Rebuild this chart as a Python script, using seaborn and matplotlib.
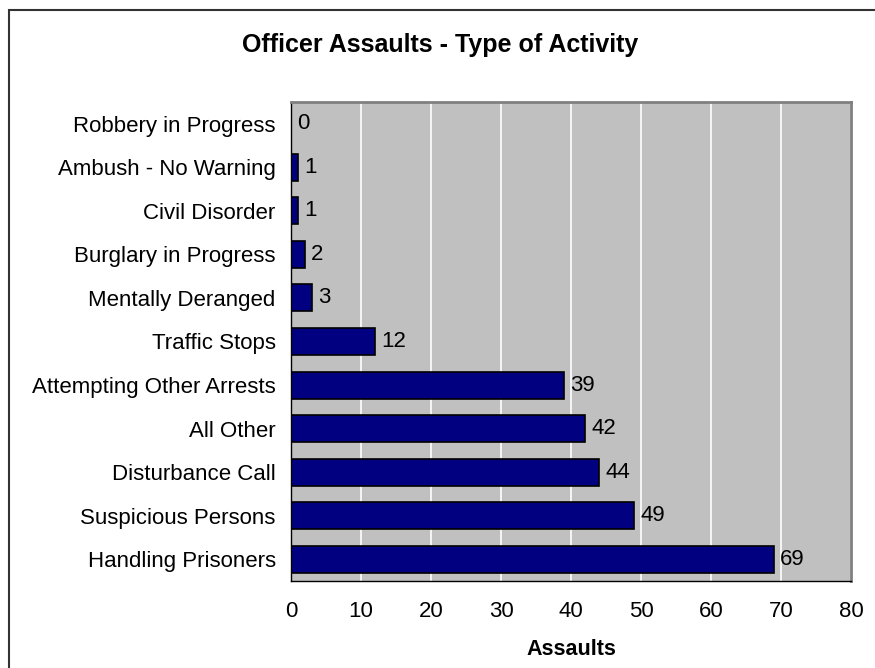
import matplotlib
matplotlib.use("Agg")
import matplotlib.pyplot as plt
import seaborn as sns
import pandas as pd
from matplotlib.patches import Rectangle

categories = ["Robbery in Progress", "Ambush - No Warning", "Civil Disorder",
              "Burglary in Progress", "Mentally Deranged", "Traffic Stops",
              "Attempting Other Arrests", "All Other", "Disturbance Call",
              "Suspicious Persons", "Handling Prisoners"]
assaults = [0, 1, 1, 2, 3, 12, 39, 42, 44, 49, 69]
x_ticks = [0, 10, 20, 30, 40, 50, 60, 70, 80]

df = pd.DataFrame({"Activity": categories, "Assaults": assaults})

sns.set_theme(style="white")
plt.rcParams['font.family'] = ['Liberation Sans', 'DejaVu Sans']

FS = 16

fig = plt.figure(figsize=(8.75, 6.68), dpi=100)
fig.patch.set_facecolor("white")
ax = fig.add_axes([291/875, 1-581/668, (851-291)/875, (581-102)/668])
ax.set_facecolor("#C0C0C0")

sns.barplot(data=df, x="Assaults", y="Activity", orient="h", ax=ax,
            color="#000080", saturation=1, width=0.62,
            edgecolor="black", linewidth=1.2)

ax.set_xlim(0, 80)
ax.set_ylim(len(categories) - 0.5, -0.5)
ax.set_xticks(x_ticks)
ax.set_xticklabels([str(t) for t in x_ticks], fontsize=FS, color="black")
ax.xaxis.grid(True, color="white", linewidth=1.2)
ax.set_axisbelow(True)

ax.set_yticks(range(len(categories)))
ax.set_yticklabels(categories, fontsize=FS, color="black")
ax.tick_params(axis="y", length=0, pad=11)
ax.set_yticks([i - 0.5 for i in range(len(categories) + 1)], minor=True)
ax.tick_params(axis="y", which="minor", length=4.5, width=1, color="black", direction="out")
ax.tick_params(axis="x", length=4.5, width=1, color="black", direction="out", pad=10)

for i, v in enumerate(assaults):
    ax.text(v + 0.9, i, str(v), va="center", ha="left", fontsize=FS, color="black")

ax.set_ylabel("")
ax.set_xlabel("Assaults", fontsize=15.5, fontweight="bold", labelpad=12, color="black")

for side in ["left", "bottom"]:
    ax.spines[side].set_color("black")
    ax.spines[side].set_linewidth(1)
for side in ["top", "right"]:
    ax.spines[side].set_color("#808080")
    ax.spines[side].set_linewidth(2)

fig.text(440/875, 1-45/668, "Officer Assaults - Type of Activity",
         ha="center", va="center", fontsize=18, fontweight="bold", color="black")

fig.add_artist(Rectangle((9/875, -0.05), 1.0, 1-10/668+0.05,
                         transform=fig.transFigure, fill=False,
                         edgecolor="#333333", linewidth=1.5))

fig.savefig("out.png", dpi=100)
